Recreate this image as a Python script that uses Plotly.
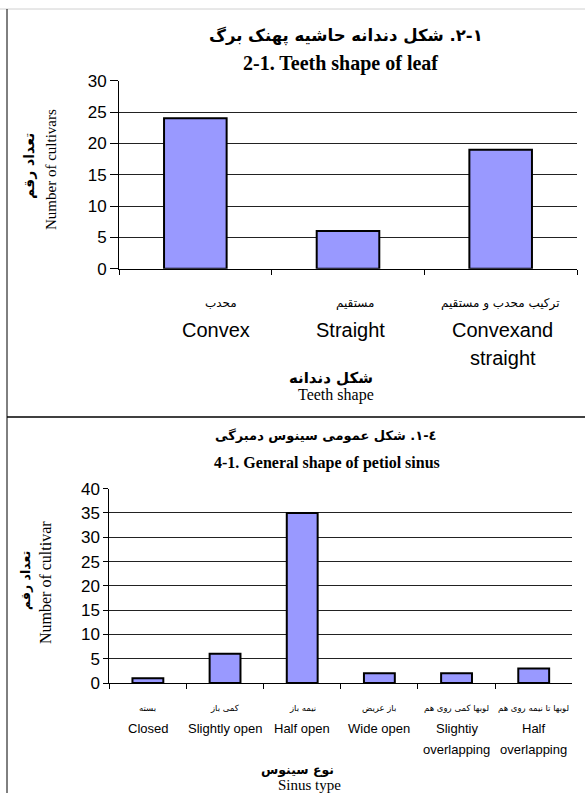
import plotly.graph_objects as go

RLE, PDF = "\u202b", "\u202c"
LRI, PDI = "\u2066", "\u2069"
W, H = 585, 793

# ---------- data: chart 1 ----------
teeth_cats = ["Convex", "Straight", "Convex and straight"]
teeth_fa = ["محدب", "مستقیم", "ترکیب محدب و مستقیم"]
teeth_en = ["Convex", "Straight", "Convexand<br>straight"]
teeth_vals = [24, 6, 19]
teeth_title_fa = LRI + "۲-۱" + PDI + ". شکل دندانه حاشیه پهنک برگ"
teeth_title_en = "2-1. Teeth shape of leaf"
teeth_ytitle_fa = "تعداد رقم"
teeth_ytitle_en = "Number of cultivars"
teeth_xtitle_fa = "شکل دندانه"
teeth_xtitle_en = "Teeth shape"
teeth_ticks = [0, 5, 10, 15, 20, 25, 30]

# ---------- data: chart 2 ----------
sinus_cats = ["Closed", "Slightly open", "Half open", "Wide open",
              "Slightly overlapping", "Half overlapping"]
sinus_fa = ["بسته", "کمی باز", "نیمه باز", "باز عریض",
            "لوبها کمی روی هم", "لوبها تا نیمه روی هم"]
sinus_en = ["Closed", "Slightly open", "Half open", "Wide open",
            "Slightiy<br>overlapping", "Half<br>overlapping"]
sinus_vals = [1, 6, 35, 2, 2, 3]
sinus_title_fa = LRI + "٤-١" + PDI + ". شکل عمومی سینوس دمبرگی"
sinus_title_en = "4-1. General shape of petiol sinus"
sinus_ytitle_fa = "تعداد رقم"
sinus_ytitle_en = "Number of cultivar"
sinus_xtitle_fa = "نوع سینوس"
sinus_xtitle_en = "Sinus type"
sinus_ticks = [0, 5, 10, 15, 20, 25, 30, 35, 40]

BAR = "#9999ff"
FA_FONT = "DejaVu Sans"
SANS = "Liberation Sans"
SERIF = "Liberation Serif"


def px(x):
    return x / W


def py(y):
    return 1 - y / H


def fa(s):
    return RLE + s + PDF


fig = go.Figure()
fig.add_trace(go.Bar(x=teeth_cats, y=teeth_vals, width=0.41,
                     marker=dict(color=BAR, line=dict(color="black", width=2)),
                     xaxis="x", yaxis="y", showlegend=False, hoverinfo="skip"))
fig.add_trace(go.Bar(x=sinus_cats, y=sinus_vals, width=0.40,
                     marker=dict(color=BAR, line=dict(color="black", width=2)),
                     xaxis="x2", yaxis="y2", showlegend=False, hoverinfo="skip"))

grid = "#222222"
common_y = dict(showgrid=True, gridcolor=grid, gridwidth=1, showline=True,
                linecolor="black", linewidth=1, ticks="outside", tickcolor="black",
                tickfont=dict(family=SANS, size=17, color="black"), zeroline=False,
                fixedrange=True, automargin=False)
common_x = dict(type="category", showgrid=False, showline=True, linecolor="black",
                linewidth=1, ticks="outside", tickson="boundaries", ticklen=5,
                tickcolor="black", showticklabels=False, fixedrange=True, automargin=False)

fig.update_layout(
    width=W, height=H, autosize=False,
    margin=dict(l=0, r=0, t=0, b=0, pad=0, autoexpand=False),
    paper_bgcolor="white", plot_bgcolor="white",
    xaxis=dict(domain=[px(119), px(577)], anchor="y", categoryorder="array",
               categoryarray=teeth_cats, **common_x),
    yaxis=dict(domain=[py(268.7), py(80.7)], anchor="x", range=[0, 30],
               tickvals=teeth_ticks, ticklen=8, **common_y),
    xaxis2=dict(domain=[px(109.3), px(572.3)], anchor="y2", categoryorder="array",
                categoryarray=sinus_cats, **common_x),
    yaxis2=dict(domain=[py(683), py(488.7)], anchor="x2", range=[0, 40],
                tickvals=sinus_ticks, ticklen=5, **common_y),
)

ann = []


def add(text, x, y, size, family, xref="paper", angle=0, bold=False, xshift=0):
    t = "<b>" + text + "</b>" if bold else text
    ann.append(dict(text=t, x=x, y=y, xref=xref, yref="paper", showarrow=False,
                    xanchor="center", yanchor="middle", textangle=angle, xshift=xshift,
                    font=dict(size=size, family=family, color="black")))


# chart 1 texts
add(fa(teeth_title_fa), px(346), py(36), 16.5, FA_FONT, bold=True)
add(teeth_title_en, px(340), py(63), 20, SERIF, bold=True)
add(fa(teeth_ytitle_fa), px(29), py(166), 14, FA_FONT, angle=-90, bold=True)
add(teeth_ytitle_en, px(51), py(170), 15, SERIF, angle=-90)
fa_shift = [26, 7, 0]
en_shift = [21, 2, 2]
for c, f, e, s1, s2 in zip(teeth_cats, teeth_fa, teeth_en, fa_shift, en_shift):
    add(fa(f), c, py(303), 12, FA_FONT, xref="x", xshift=s1)
    for i, line in enumerate(e.split("<br>")):
        add(line, c, py(330 + 28 * i), 20, SANS, xref="x", xshift=s2)
add(fa(teeth_xtitle_fa), px(331), py(378), 15, FA_FONT, bold=True)
add(teeth_xtitle_en, px(336), py(395), 16, SERIF)

# chart 2 texts
add(fa(sinus_title_fa), px(326), py(436), 13, FA_FONT, bold=True)
add(sinus_title_en, px(327), py(463), 16, SERIF, bold=True)
add(fa(sinus_ytitle_fa), px(25), py(581), 12.5, FA_FONT, angle=-90, bold=True)
add(sinus_ytitle_en, px(45), py(583), 16, SERIF, angle=-90)
for c, f, e in zip(sinus_cats, sinus_fa, sinus_en):
    add(fa(f), c, py(708), 8.5, FA_FONT, xref="x2")
    for i, line in enumerate(e.split("<br>")):
        add(line, c, py(728 + 21 * i), 13, SANS, xref="x2")
add(fa(sinus_xtitle_fa), px(297), py(769), 12.5, FA_FONT, bold=True)
add(sinus_xtitle_en, px(309), py(785), 15, SERIF)

fig.update_layout(annotations=ann)

# frame lines of the two panels
fig.update_layout(shapes=[
    dict(type="line", xref="paper", yref="paper", x0=px(0), x1=1, y0=py(9), y1=py(9),
         line=dict(color="#d0d0d0", width=1)),
    dict(type="line", xref="paper", yref="paper", x0=px(7), x1=px(7), y0=py(9), y1=0,
         line=dict(color="black", width=1)),
    dict(type="line", xref="paper", yref="paper", x0=px(7), x1=1, y0=py(417), y1=py(417),
         line=dict(color="black", width=1.5)),
])

fig.write_html("out.html", config=dict(displayModeBar=False),
               post_script="document.body.style.margin='0';document.body.style.overflow='hidden';")
